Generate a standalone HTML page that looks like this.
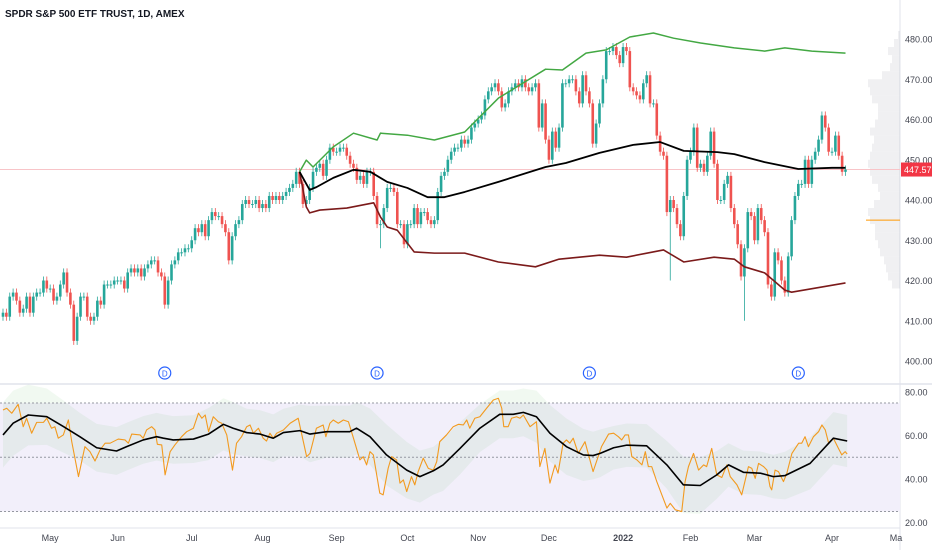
<!DOCTYPE html>
<html><head><meta charset="utf-8"><style>
html,body{margin:0;padding:0;background:#fff;}
svg{display:block;font-family:"Liberation Sans",sans-serif;}
</style></head><body>
<svg id="c" width="932" height="550" viewBox="0 0 932 550" xmlns="http://www.w3.org/2000/svg">
<rect x="0" y="0" width="932" height="550" fill="#fff"/>
<text x="5" y="17" font-size="10" font-weight="bold" fill="#131722">SPDR S&amp;P 500 ETF TRUST, 1D, AMEX</text>
<line x1="900" y1="0" x2="900" y2="550" stroke="#e0e3eb"/>
<line x1="0" y1="384" x2="932" y2="384" stroke="#e0e3eb" stroke-width="1.5"/>
<line x1="0" y1="528" x2="900" y2="528" stroke="#e0e3eb"/>
<g id="g"></g>
</svg>
<script>
const closes=[412,411,416,417,415,412,413,416,412,416,417,417,420,418,
418,415,416,419,422,417,414,405,411,416,416,411,410,411,415,414,419,419,419,420,
420,420,418,422,423,422,423,421,423,424,425,425,422,421,414,420,424,425,427,427,428,428,
430,433,432,434,431,435,437,436,436,434,432,425,431,434,435,439,440,439,439,440,438,
439,438,441,440,441,440,441,442,443,444,447,444,439,440,443,447,448,449,446,450,453,452,
452,453,453,451,449,448,445,446,444,447,447,441,434,434,438,443,443,442,434,434,429,
434,434,438,434,437,437,435,434,435,442,446,447,450,452,453,453,455,454,455,458,459,
460,461,465,467,468,469,467,463,464,467,468,469,468,470,468,467,468,469,458,464,455,
450,457,453,458,469,469,470,470,467,464,471,467,464,454,459,464,470,477,477,478,476,474,
478,477,468,467,466,465,469,471,464,464,456,452,451,437,440,438,434,431,441,450,
452,458,448,449,447,451,457,449,440,440,444,446,438,434,429,421,428,437,436,
430,438,435,432,419,416,427,425,420,417,426,435,441,444,444,450,444,450,452,455,461,458,452,
452,456,451,447,447.57];
const firstOpen=411;
const wickIdx=[198,220,228,112];
const wickLow=[420,410,415,428];
const vwapIdx=[88,91,93,98,104,109,114,120,126,131,137,147,161,167,177,187,195,202,212,217,226,236,246,250];
const vwapVal=[447,442.5,443.2,445.5,447.5,447,444.5,443,440.7,440.7,442,444.5,448.2,449.2,451.7,453.7,454.4,452.2,451.9,451.4,449.4,447.7,448,448];
const upIdx=[88,90,92,98,104,111,112,120,128,137,147,161,166,173,179,186,193,199,207,217,226,232,240,250];
const upVal=[447,449.9,448.2,453.2,456.6,454.9,456.6,456.1,454.9,456.9,465.3,472.5,472.3,476.5,477.3,480.5,481.5,480.2,479,477.8,477,477.8,477,476.5];
const loIdx=[88,90,91,94,102,110,112,114,117,122,128,137,147,158,165,177,185,196,202,211,217,220,226,232,234,250];
const loVal=[447,438.3,436.8,437.5,438,439.3,435.8,433.3,432.5,427.1,426.8,426.8,424.6,423.4,425.3,426.3,425.8,427.6,424.6,425.8,425.3,423.4,421.9,417.6,417.1,419.4];
const rsiIdx=[0,1.1,2.6,4.5,6,7,8.5,10,12,13,14.4,15.4,16.4,17.9,19.4,20.4,22.4,24.3,25.8,27.3,28.8,30.3,31.8,34.2,36.2,37.2,38.2,40.7,41.6,42.6,44.1,45.1,45.8,47.1,48.1,49.6,51,53,54.5,56.5,58,59,60,61,62.4,63.9,64.9,66.4,68.1,69.3,70.8,72.3,73.3,74.3,75.8,77.2,78.2,79.2,80.2,81.2,83.2,85.2,87.6,90.1,91.1,93,95,95.8,97,98,99.5,101,102.5,104,105.9,106.9,107.9,108.9,109.9,111.8,112.8,114.3,115.3,116.8,117.8,118.8,119.8,121.2,122.2,123.2,124.7,126.2,127.7,128.7,129.6,131.6,133.6,135.1,136.6,137.6,138.5,140,141.5,143.5,145.5,147,148,148.6,149.9,150.9,152.4,153.4,154.4,156.4,158.3,159.3,160.8,162.3,163.8,164.7,166.2,167.2,168.2,169.2,170.7,172.7,175.1,177.6,179.7,181.2,182.6,183.6,184.6,185.6,186.6,188.1,189.6,190.6,191.5,192.5,194,195.5,197,198,199.5,201.4,202.4,203.4,204.9,206.4,207.9,208.8,210.3,211.8,213.3,214.8,215.8,217.8,219.2,221.2,222.2,223.2,224.2,225.7,226.7,227.6,228.1,229.1,230.1,231.6,232.6,234.1,236.1,237,238,239,240.5,242,243,244,245,246.4,247.9,248.9,249.9,250.5];
const rsiVal=[71.8,72.6,70.3,74.4,64.1,68,61.1,66.1,66.1,68,63.4,64.1,58.8,60.3,67.2,57.2,41.1,54.9,52.6,48.3,53.4,56.5,56.5,58.4,58,56.5,60.7,60.3,58.8,62.6,64.1,62.6,56,55.7,41.9,52.6,55.7,59.5,61.8,63.4,70.3,68,69.5,61.8,68.7,66.4,65.7,60.3,44.1,56.5,59.5,64.1,64.9,61.1,63.4,58.8,57.5,61.1,58.8,61.1,62.6,65.7,68,50.3,51.8,63.4,64.9,59.5,65.7,67.2,65.7,67.2,66.4,58.8,48.8,50.3,46.5,52.6,51.1,33.5,32.7,45,50.3,48.8,38.1,39.6,34.2,41.1,37.3,43.4,49.6,44.9,44.1,48,57.2,60.3,64.1,65.2,64.9,67.2,63.4,68,68.7,72.6,76.4,77.2,72.6,64.1,64.1,68,68.7,68,69.5,64.1,66.4,45.7,54.1,38.1,46.5,42.7,56.5,58,56.5,58.8,51.8,57.2,43.4,54.9,60.7,61.1,59.5,58,60.3,60.3,50.3,48.8,46.5,52.6,45.7,45.7,38.8,32.7,26.6,28.8,25.8,25,38.8,45.7,51.8,44.1,46.5,45.7,54.1,41.9,40.7,46.5,41.1,37.3,32.7,45.7,44.9,40.3,47.2,45.7,44.1,36.5,35,44.1,43.4,38.8,42.7,51.8,56.5,56.5,59.5,54.9,59.5,61.8,64.9,62.6,56.5,58.8,54.1,51.1,52.6,51.5];
const maIdx=[0,3,7.5,13,18,22.8,27.8,33.7,36.7,41.6,45.6,47.6,50.5,56.5,61,65.4,68.3,72.3,76.3,80.2,83.2,88.1,91.1,96,102.9,104.9,108.9,113.8,119.8,123.7,127.7,130.6,135.6,141.5,147.4,151.4,154.4,158.3,162.3,167.2,172.2,175.1,177.2,181.2,185.1,191,197,201.9,206.9,211.8,215.3,219.7,224.7,228.6,232.1,239.5,246.4,250.5];
const maVal=[60.3,65.7,69.5,68.7,64.1,59.5,54.4,52.9,54.9,58,59.5,58.8,58,58.4,60.7,65.2,63.4,61.4,60.7,58.8,61.4,62.3,60.7,61.8,61.8,63.4,59.5,51.1,44.1,41.1,43.8,46.5,54.1,63.4,69.8,69.8,70.7,68.7,61.1,54.9,51.1,50.8,51.8,54.4,55.6,55.3,46.5,37.3,37,41.9,46.5,43.1,42.7,41.1,41.6,47.2,58.8,57.5];
const bbHalf=[15,15,14,13,12,11,11,11,11,11,11,11,11,11,12,12,12,11,11,11,11,12,13,12,12,12,13,14,13,12,11,12,12,11,11,11,11,12,13,13,12,11,11,10,10,10,11,13,13,11,10,10,10,10,11,12,12,12];
const priceTicks=[480,470,460,450,440,430,420,410,400];
const rsiTicks=[80,60,40,20];
const rsiLevels=[75,50,25];
const months=["May","Jun","Jul","Aug","Sep","Oct","Nov","Dec","2022","Feb","Mar","Apr","Ma"];
const monthIdx=[14,34,56,77,99,120,141,162,184,204,223,246,265];
const divIdx=[48,111,174,236];
const profPrice=[481,479,477,475,473,471,469,467,465,463,461,459,457,455,453,451,449,447,445,443,441,439,437,435,433,431,429,427,425,423,421,419];
const profWidth=[2,6,12,8,10,18,32,30,28,22,22,25,30,26,28,30,32,30,28,22,20,26,32,30,25,25,22,20,16,14,12,8];
const pocPrice=435;
const lastPrice=447.57;

const NS="http://www.w3.org/2000/svg";
const g=document.getElementById('g');
const X=i=>3+i*3.37;
const Y=p=>39+(480-p)*4.025;
const RY=v=>457.3-(v-50)*2.17;
function mk(t,a,parent){const e=document.createElementNS(NS,t);for(const k in a)e.setAttribute(k,a[k]);(parent||g).appendChild(e);return e;}

const rb=mk('rect',{x:0,y:RY(75),width:900,height:RY(25)-RY(75),fill:'#f2effa'});


let up=maIdx.map((i,k)=>X(i)+','+RY(maVal[k]+bbHalf[k]));
let dn=maIdx.map((i,k)=>X(i)+','+RY(maVal[k]-bbHalf[k])).reverse();
const bb=mk('polygon',{points:up.concat(dn).join(' '),fill:'rgba(76,175,80,0.08)'});


rsiLevels.forEach(v=>{const l=mk('line',{x1:0,x2:900,y1:RY(v),y2:RY(v),stroke:'#9598a1','stroke-dasharray':'2,2','stroke-width':1});

});

profPrice.forEach((p,k)=>{const r=mk('rect',{x:900-profWidth[k],y:Y(p+1),width:profWidth[k],height:8,fill:'rgba(149,152,161,0.14)'});

});
const poc=mk('line',{x1:866,x2:900,y1:Y(pocPrice),y2:Y(pocPrice),stroke:'#ff9800','stroke-width':1});



const lp=mk('line',{x1:0,x2:900,y1:Y(lastPrice),y2:Y(lastPrice),stroke:'#f8c4c8','stroke-width':1});



closes.forEach((c,i)=>{
  const o=i===0?firstOpen:closes[i-1];
  const hi=Math.max(o,c)+1.0;let lo=Math.min(o,c)-1.0;
  const w=wickIdx.indexOf(i);if(w>=0)lo=wickLow[w];
  const col=c>=o?'#26a69a':'#ef5350';
  const x=X(i);
  const wk=mk('line',{x1:x,x2:x,y1:Y(hi),y2:Y(lo),stroke:col,'stroke-width':0.8});
  
  
  const bt=Y(Math.max(o,c)),bh=Math.max(1,Y(Math.min(o,c))-bt);
  const b=mk('rect',{x:x-1.3,y:bt,width:2.6,height:bh,fill:col});
  
  
});

function poly(idx,vals,fy,stroke,w,name){
  const p=mk('polyline',{points:idx.map((i,k)=>X(i)+','+fy(vals[k])).join(' '),fill:'none',stroke:stroke,'stroke-width':w,'stroke-linejoin':'round'});
  
  
}
poly(upIdx,upVal,Y,'#43a843',1.5,'upper-band');
poly(loIdx,loVal,Y,'#7b1a1a',1.6,'lower-band');
poly(vwapIdx,vwapVal,Y,'#000',1.8,'vwap-line');
poly(rsiIdx,rsiVal,RY,'#f29a1f',1.1,'rsi-line');
poly(maIdx,maVal,RY,'#000',1.6,'rsi-ma-line');

divIdx.forEach(i=>{
  const c=mk('circle',{cx:X(i),cy:373,r:6,fill:'#fff',stroke:'#2962ff','stroke-width':1.2});
  
  
  const t=mk('text',{x:X(i),y:376.5,'font-size':8,'text-anchor':'middle',fill:'#2962ff'});t.textContent='D';
  
  
});

priceTicks.forEach(p=>{const t=mk('text',{x:905,y:Y(p)+3.5,'font-size':9,fill:'#434651'});t.textContent=p.toFixed(2);

});
rsiTicks.forEach(v=>{const t=mk('text',{x:905,y:RY(v)+3.5,'font-size':9,fill:'#434651'});t.textContent=v.toFixed(2);

});
months.forEach((m,k)=>{const t=mk('text',{x:X(monthIdx[k]),y:541,'font-size':9,'text-anchor':'middle',fill:'#434651','font-weight':m==='2022'?'bold':'normal'});t.textContent=m;

});
const pb=mk('rect',{x:901,y:Y(lastPrice)-7,width:31,height:14,fill:'#f23645'});


const pt=mk('text',{x:904,y:Y(lastPrice)+3.5,'font-size':9,fill:'#fff'});pt.textContent=lastPrice.toFixed(2);


</script>
</body></html>
